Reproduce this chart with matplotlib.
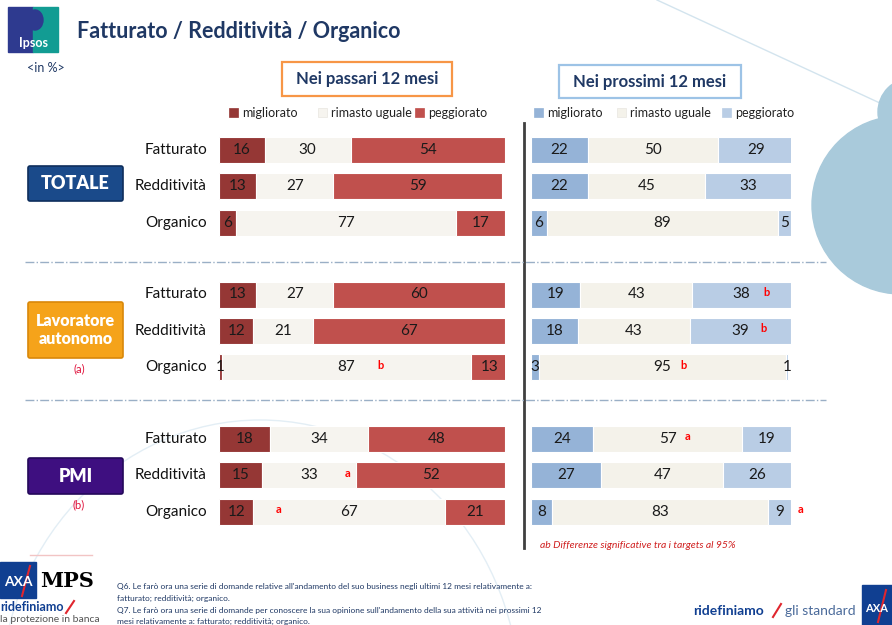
import matplotlib
matplotlib.use("Agg")
import matplotlib.pyplot as plt
from matplotlib.patches import Rectangle, FancyBboxPatch, Circle, Ellipse

plt.rcParams['font.family'] = ['Lato', 'DejaVu Sans']

# dati
rows = ["Fatturato", "Redditività", "Organico"]
groups = ["TOTALE", "Lavoratore\nautonomo", "PMI"]
group_tags = ["", "(a)", "(b)"]
series = ["migliorato", "rimasto uguale", "peggiorato"]

past_migliorato = [16, 13, 6, 13, 12, 1, 18, 15, 12]
past_uguale = [30, 27, 77, 27, 21, 87, 34, 33, 67]
past_peggiorato = [54, 59, 17, 60, 67, 13, 48, 52, 21]

next_migliorato = [22, 22, 6, 19, 18, 3, 24, 27, 8]
next_uguale = [50, 45, 89, 43, 43, 95, 57, 47, 83]
next_peggiorato = [29, 33, 5, 38, 39, 1, 19, 26, 9]

# lettere di significatività: (pannello, riga, posizione x in %, lettera)
sig_letters = [("past", 5, 56.6, "b"), ("past", 7, 44.8, "a"), ("past", 8, 21.0, "a"),
               ("next", 3, 90.4, "b"), ("next", 4, 89.6, "b"), ("next", 5, 58.5, "b"),
               ("next", 6, 60.4, "a"), ("next", 8, 103.8, "a")]

past_colors = ["#953735", "#F6F4EF", "#C0504D"]
next_colors = ["#95B3D7", "#F4F2EA", "#B9CDE5"]
navy = "#1F3864"
sig_red = "#FF0000"

W, H = 892, 625
fig = plt.figure(figsize=(W / 100, H / 100), dpi=100)

bg = fig.add_axes([0, 0, 1, 1])
bg.set_xlim(0, W)
bg.set_ylim(H, 0)
bg.axis("off")

# nuvola decorativa a destra
cloud = "#A9CADB"
bg.plot([657, 882], [0, 104], color="#D3E4EE", lw=1, zorder=0)
bg.add_patch(Circle((912, 112), 34, color=cloud, zorder=0))
bg.add_patch(Circle((901, 205), 89, color=cloud, zorder=0))
bg.add_patch(Ellipse((260, 700), 520, 560, fill=False, ec="#E3EEF5", lw=1, zorder=0))

# logo Ipsos
bg.add_patch(Rectangle((8, 7), 25, 45, color="#2E3A8F", zorder=1))
bg.add_patch(Rectangle((33, 7), 25, 45, color="#129C93", zorder=1))
bg.add_patch(Ellipse((35, 20), 16, 20, color="#2E3A8F", zorder=2))
bg.text(33, 43, "Ipsos", color="white", fontsize=9, fontweight="bold", ha="center", va="center", zorder=3)

bg.text(77, 32, "Fatturato / Redditività / Organico", color=navy, fontsize=15.5,
        fontweight="bold", ha="left", va="center")
bg.text(27, 68, "<in %>", color=navy, fontsize=9, ha="left", va="center")

# riquadri intestazione
bg.add_patch(Rectangle((282, 62), 170, 34, fill=False, ec="#F79646", lw=1.6))
bg.text(367, 79, "Nei passari 12 mesi", color=navy, fontsize=12, fontweight="bold", ha="center", va="center")
bg.add_patch(Rectangle((559, 65), 182, 33, fill=False, ec="#9DC3E6", lw=1.6))
bg.text(650, 81.5, "Nei prossimi 12 mesi", color=navy, fontsize=12, fontweight="bold", ha="center", va="center")

# legende
for x0, col, lab in zip([229, 318, 415], past_colors, series):
    bg.add_patch(Rectangle((x0, 108), 9, 9, color=col, ec="#E8E6E0" if col == past_colors[1] else col, lw=0.5))
    bg.text(x0 + 13, 113, lab, fontsize=9, color="#222222", ha="left", va="center")
for x0, col, lab in zip([534, 617, 722], next_colors, series):
    bg.add_patch(Rectangle((x0, 108), 9, 9, color=col, ec="#E8E6E0" if col == next_colors[1] else col, lw=0.5))
    bg.text(x0 + 13, 113, lab, fontsize=9, color="#222222", ha="left", va="center")

# separatori
bg.plot([524, 524], [123, 548], color="#404040", lw=2)
for ys in [262, 400]:
    bg.plot([25, 826], [ys, ys], color="#9AAFC6", lw=1, ls="-.")

# etichette dei gruppi
box_style = [("#1A4A8A", "#0E2E5C"), ("#F5A31A", "#D9880A"), ("#3E0F80", "#24085A")]
box_y = [(166, 201), (302, 358), (458, 494)]
for g, name in enumerate(groups):
    y0, y1 = box_y[g]
    fc, ec = box_style[g]
    bg.add_patch(FancyBboxPatch((28, y0), 95, y1 - y0, boxstyle="round,pad=0,rounding_size=2",
                                fc=fc, ec=ec, lw=1.2))
    fs = 13 if g != 1 else 11.5
    bg.text(75.5, (y0 + y1) / 2, name, color="white", fontsize=fs, fontweight="heavy",
            ha="center", va="center", linespacing=1.2)
    if group_tags[g]:
        bg.text(79, y1 + 11, group_tags[g], color="#E0103A", fontsize=8, ha="center", va="center")

# posizioni delle righe (pixel)
row_y = [150 + g * 144.5 + r * 36.3 for g in range(3) for r in range(3)]
for i, y in enumerate(row_y):
    bg.text(207, y, rows[i % 3], fontsize=11, color="#111111", ha="right", va="center")


def draw_panel(left, width, values, colors, key):
    ax = fig.add_axes([left / W, 0, width / W, 1])
    ax.set_xlim(0, 100)
    ax.set_ylim(H, 0)
    ax.axis("off")
    ax.patch.set_alpha(0)
    starts = [0] * len(row_y)
    for vals, col in zip(values, colors):
        ax.barh(row_y, vals, left=starts, height=26, color=col, edgecolor="white", linewidth=0.8)
        for y, s, v in zip(row_y, starts, vals):
            ax.text(s + v / 2, y, str(v), fontsize=11, color="#1A1A1A", ha="center", va="center")
        starts = [s + v for s, v in zip(starts, vals)]
    for side, r, x, letter in sig_letters:
        if side == key:
            ax.text(x, row_y[r] - 2, letter, fontsize=8, fontweight="bold", color=sig_red,
                    ha="center", va="center", clip_on=False)
    return ax


draw_panel(219, 286, [past_migliorato, past_uguale, past_peggiorato], past_colors, "past")
draw_panel(531, 260, [next_migliorato, next_uguale, next_peggiorato], next_colors, "next")

bg.text(540, 545, "ab Differenze significative tra i targets al 95%", color="#D02020",
        fontsize=7.5, style="italic", ha="left", va="center")

# piè di pagina
bg.plot([30, 92], [555, 555], color="#F2C4C4", lw=1)
bg.add_patch(Rectangle((0, 562), 36, 36, color="#103F91"))
bg.text(18, 582, "AXA", color="white", fontsize=10, fontweight="bold", ha="center", va="center")
bg.plot([22, 30], [596, 566], color="#E0262E", lw=1.5)
bg.text(40, 581, "MPS", color="black", fontsize=15, fontweight="bold", family="DejaVu Serif",
        ha="left", va="center")
bg.text(0, 607, "ridefiniamo", color="#103F91", fontsize=9, fontweight="bold", ha="left", va="center")
bg.plot([66, 74], [613, 601], color="#E0262E", lw=1.5)
bg.text(0, 620, "la protezione in banca", color="#555555", fontsize=7.5, ha="left", va="center")

notes = ["Q6. Le farò ora una serie di domande relative all'andamento del suo business negli ultimi 12 mesi relativamente a:",
         "fatturato; redditività; organico.",
         "Q7. Le farò ora una serie di domande per conoscere la sua opinione sull'andamento della sua attività nei prossimi 12",
         "mesi relativamente a: fatturato; redditività; organico."]
for i, line in enumerate(notes):
    bg.text(117, 587 + i * 11.5, line, color=navy, fontsize=6, ha="left", va="center")

bg.text(693, 611, "ridefiniamo", color="#103F91", fontsize=10, fontweight="bold", ha="left", va="center")
bg.plot([773, 781], [617, 604], color="#E0262E", lw=1.5)
bg.text(785, 611, "gli standard", color="#4A6A9A", fontsize=10, ha="left", va="center")
bg.add_patch(Rectangle((862, 585), 30, 40, color="#103F91"))
bg.text(877, 608, "AXA", color="white", fontsize=8, fontweight="bold", ha="center", va="center")
bg.plot([878, 886], [622, 590], color="#E0262E", lw=1.5)

fig.savefig("out.png", dpi=100, facecolor="white")
